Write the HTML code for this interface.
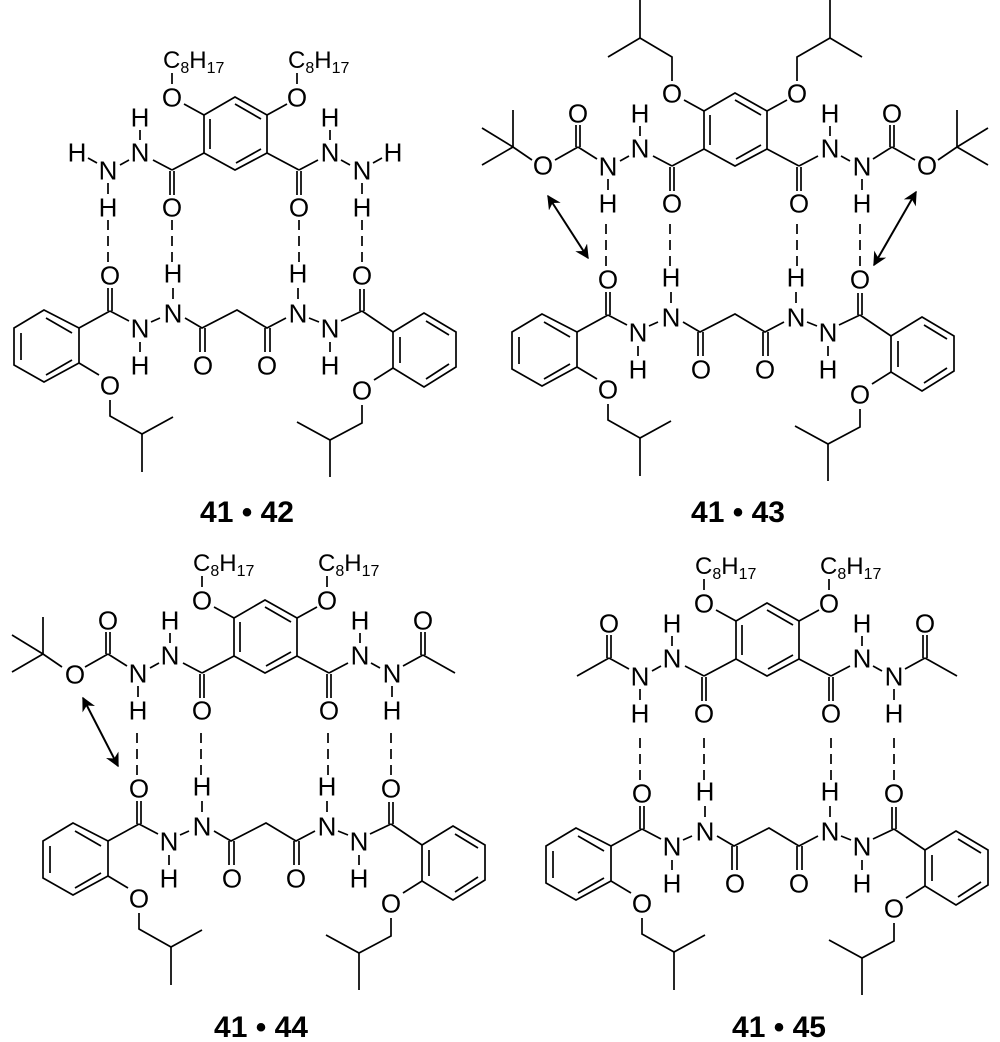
<!DOCTYPE html>
<html><head><meta charset="utf-8"><style>
html,body{margin:0;padding:0;background:#fff}
svg{display:block}
.a{font-family:"Liberation Sans",sans-serif;font-size:26px;text-anchor:middle;fill:#000;transform:translate(0px,2.5px)}
.st{text-anchor:start;font-size:24px;transform:none}
.s{font-size:16px}
.lbl{font-family:"Liberation Sans",sans-serif;font-size:30px;font-weight:bold;text-anchor:middle}
</style></head><body>
<svg width="1000" height="1042" viewBox="0 0 1000 1042" xmlns="http://www.w3.org/2000/svg">
<defs>
<marker id="ah" viewBox="0 0 10 10" refX="9" refY="5" markerWidth="7" markerHeight="7" orient="auto-start-reverse"><path d="M0,0 L10,5 L0,10 L3,5 z" fill="#000"/></marker>
<g id="topL" stroke="#000" stroke-width="1.7" fill="none">
<polygon points="235,97 204,115 204,153 235,170 267,153 267,115"/>
<line x1="235" y1="104" x2="261" y2="119"/><line x1="210" y1="119" x2="210" y2="149"/><line x1="236" y1="163" x2="261" y2="149"/>
<line x1="204" y1="115" x2="184" y2="104"/><line x1="267" y1="115" x2="287" y2="104"/>
<line x1="204" y1="153" x2="172" y2="170"/><line x1="267" y1="153" x2="299" y2="170"/>
<line x1="170" y1="171" x2="170" y2="195"/><line x1="174" y1="171" x2="174" y2="195"/>
<line x1="297" y1="171" x2="297" y2="195"/><line x1="301" y1="171" x2="301" y2="195"/>
<line x1="172" y1="170" x2="153" y2="160"/><line x1="299" y1="170" x2="318" y2="160"/>
<line x1="140" y1="130" x2="140" y2="140"/><line x1="330" y1="130" x2="330" y2="140"/>
<line x1="129" y1="160" x2="120" y2="165"/><line x1="341" y1="160" x2="350" y2="165"/>
<line x1="108" y1="183" x2="108" y2="194"/><line x1="362" y1="183" x2="362" y2="194"/>
</g>
<g id="botL" stroke="#000" stroke-width="1.7" fill="none">
<g stroke-dasharray="10,6"><line x1="108" y1="220" x2="108" y2="262"/><line x1="172" y1="220" x2="172" y2="262"/><line x1="299" y1="220" x2="299" y2="262"/><line x1="362" y1="220" x2="362" y2="262"/></g>
<line x1="108" y1="288" x2="108" y2="311"/><line x1="112" y1="288" x2="112" y2="311"/>
<line x1="110" y1="311" x2="79" y2="328"/><line x1="110" y1="311" x2="129" y2="321"/>
<line x1="140" y1="342" x2="140" y2="352"/><line x1="151" y1="322" x2="160" y2="318"/>
<line x1="173" y1="288" x2="173" y2="299"/>
<polyline points="185,318 202,328 237,310 267,328 286,318"/>
<line x1="200" y1="328" x2="200" y2="352"/><line x1="205" y1="328" x2="205" y2="352"/>
<line x1="265" y1="328" x2="265" y2="352"/><line x1="270" y1="328" x2="270" y2="352"/>
<line x1="298" y1="288" x2="298" y2="299"/><line x1="309" y1="318" x2="319" y2="322"/>
<line x1="330" y1="342" x2="330" y2="352"/><line x1="341" y1="321" x2="362" y2="311"/>
<line x1="360" y1="289" x2="360" y2="311"/><line x1="364" y1="289" x2="364" y2="311"/>
<line x1="362" y1="311" x2="393" y2="332"/>
<polygon points="44,310 79,328 79,363 44,382 14,365 14,328"/>
<line x1="46" y1="318" x2="72" y2="333"/><line x1="21" y1="333" x2="21" y2="360"/><line x1="46" y1="375" x2="72" y2="360"/>
<line x1="79" y1="363" x2="99" y2="375"/>
<polyline points="110,400 110,416 142,434 173,417"/><line x1="142" y1="434" x2="142" y2="472"/>
<polygon points="424,313 456,332 456,367 424,387 393,368 393,332"/>
<line x1="426" y1="321" x2="449" y2="335"/><line x1="400" y1="337" x2="400" y2="363"/><line x1="426" y1="379" x2="449" y2="364"/>
<line x1="393" y1="368" x2="374" y2="380"/>
<polyline points="362,405 362,423 330,440 297,422"/><line x1="330" y1="440" x2="330" y2="477"/>
</g>
<g id="c8" stroke="#000" stroke-width="1.7"><line x1="172" y1="73" x2="172" y2="84"/><line x1="297" y1="73" x2="297" y2="84"/></g>
<g id="bocL" stroke="#000" stroke-width="1.7" fill="none">
<line x1="97" y1="163" x2="78" y2="151"/><line x1="76" y1="151" x2="76" y2="129"/><line x1="80" y1="151" x2="80" y2="129"/>
<line x1="78" y1="151" x2="55" y2="164"/><line x1="32" y1="164" x2="13" y2="151"/>
<line x1="13" y1="151" x2="-18" y2="132"/><line x1="13" y1="151" x2="-18" y2="169"/><line x1="13" y1="151" x2="13" y2="114"/>
</g>
<g id="acL" stroke="#000" stroke-width="1.7" fill="none">
<line x1="97" y1="163" x2="77" y2="152"/><line x1="75" y1="152" x2="75" y2="129"/><line x1="79" y1="152" x2="79" y2="129"/><line x1="77" y1="152" x2="45" y2="170"/>
</g>
</defs>

<!-- Q1 -->
<g>
<use href="#topL"/><use href="#botL"/><use href="#c8"/>
<g stroke="#000" stroke-width="1.7"><line x1="88" y1="158" x2="97" y2="163"/><line x1="373" y1="163" x2="382" y2="158"/></g>
<text class="a st" x="163" y="68">C<tspan class="s" dy="5">8</tspan><tspan dy="-5">H</tspan><tspan class="s" dy="5">17</tspan></text>
<text class="a st" x="288" y="68">C<tspan class="s" dy="5">8</tspan><tspan dy="-5">H</tspan><tspan class="s" dy="5">17</tspan></text>
<text class="a" x="77" y="159">H</text><text class="a" x="393" y="159">H</text>
<text class="a" x="172" y="104">O</text><text class="a" x="297" y="104">O</text><text class="a" x="172" y="214">O</text><text class="a" x="299" y="214">O</text>
<text class="a" x="140" y="159">N</text><text class="a" x="140" y="124">H</text><text class="a" x="108" y="177">N</text><text class="a" x="108" y="214">H</text>
<text class="a" x="330" y="159">N</text><text class="a" x="330" y="124">H</text><text class="a" x="362" y="177">N</text><text class="a" x="362" y="214">H</text>
<text class="a" x="110" y="282">O</text><text class="a" x="140" y="335">N</text><text class="a" x="140" y="372">H</text><text class="a" x="173" y="280">H</text><text class="a" x="173" y="320">N</text>
<text class="a" x="203" y="372">O</text><text class="a" x="267" y="372">O</text><text class="a" x="298" y="280">H</text><text class="a" x="298" y="320">N</text><text class="a" x="330" y="335">N</text><text class="a" x="330" y="372">H</text>
<text class="a" x="362" y="282">O</text><text class="a" x="110" y="392">O</text><text class="a" x="362" y="397">O</text>
<text class="lbl" x="247" y="522">41 • 42</text>
</g>

<!-- Q2 -->
<g transform="translate(500,-4)">
<use href="#topL"/><use href="#bocL"/><use href="#bocL" transform="translate(470,0) scale(-1,1)"/>
<g stroke="#000" stroke-width="1.7" fill="none"><polyline points="172,85 172,61 140,42 108,61"/><line x1="140" y1="42" x2="140" y2="4"/><polyline points="297,85 297,61 330,42 362,61"/><line x1="330" y1="42" x2="330" y2="4"/></g>
<text class="a" x="78" y="124">O</text><text class="a" x="43" y="176">O</text><text class="a" x="392" y="124">O</text><text class="a" x="427" y="176">O</text>
<text class="a" x="172" y="104">O</text><text class="a" x="297" y="104">O</text><text class="a" x="172" y="214">O</text><text class="a" x="299" y="214">O</text>
<text class="a" x="140" y="159">N</text><text class="a" x="140" y="124">H</text><text class="a" x="108" y="177">N</text><text class="a" x="108" y="214">H</text>
<text class="a" x="330" y="159">N</text><text class="a" x="330" y="124">H</text><text class="a" x="362" y="177">N</text><text class="a" x="362" y="214">H</text>
</g>
<g transform="translate(498,4)">
<use href="#botL"/>
<text class="a" x="110" y="282">O</text><text class="a" x="140" y="335">N</text><text class="a" x="140" y="372">H</text><text class="a" x="173" y="280">H</text><text class="a" x="173" y="320">N</text>
<text class="a" x="203" y="372">O</text><text class="a" x="267" y="372">O</text><text class="a" x="298" y="280">H</text><text class="a" x="298" y="320">N</text><text class="a" x="330" y="335">N</text><text class="a" x="330" y="372">H</text>
<text class="a" x="362" y="282">O</text><text class="a" x="110" y="392">O</text><text class="a" x="362" y="397">O</text>
</g>
<text class="lbl" x="738" y="522">41 • 43</text>
<g stroke="#000" stroke-width="2" marker-start="url(#ah)" marker-end="url(#ah)">
<line x1="548" y1="196" x2="588" y2="258"/><line x1="916" y1="192" x2="874" y2="265"/>
</g>

<!-- Q3 -->
<g transform="translate(30,503)">
<use href="#topL"/><use href="#c8"/><use href="#bocL"/><use href="#acL" transform="translate(470,0) scale(-1,1)"/>
<text class="a st" x="163" y="68">C<tspan class="s" dy="5">8</tspan><tspan dy="-5">H</tspan><tspan class="s" dy="5">17</tspan></text>
<text class="a st" x="288" y="68">C<tspan class="s" dy="5">8</tspan><tspan dy="-5">H</tspan><tspan class="s" dy="5">17</tspan></text>
<text class="a" x="78" y="124">O</text><text class="a" x="45" y="178">O</text><text class="a" x="393" y="124">O</text>
<text class="a" x="172" y="104">O</text><text class="a" x="297" y="104">O</text><text class="a" x="172" y="214">O</text><text class="a" x="299" y="214">O</text>
<text class="a" x="140" y="159">N</text><text class="a" x="140" y="124">H</text><text class="a" x="108" y="177">N</text><text class="a" x="108" y="214">H</text>
<text class="a" x="330" y="159">N</text><text class="a" x="330" y="124">H</text><text class="a" x="362" y="177">N</text><text class="a" x="362" y="214">H</text>
</g>
<g transform="translate(29,513)">
<use href="#botL"/>
<text class="a" x="110" y="282">O</text><text class="a" x="140" y="335">N</text><text class="a" x="140" y="372">H</text><text class="a" x="173" y="280">H</text><text class="a" x="173" y="320">N</text>
<text class="a" x="203" y="372">O</text><text class="a" x="267" y="372">O</text><text class="a" x="298" y="280">H</text><text class="a" x="298" y="320">N</text><text class="a" x="330" y="335">N</text><text class="a" x="330" y="372">H</text>
<text class="a" x="362" y="282">O</text><text class="a" x="110" y="392">O</text><text class="a" x="362" y="397">O</text>
</g>
<text class="lbl" x="261" y="1037">41 • 44</text>
<g stroke="#000" stroke-width="2" marker-start="url(#ah)" marker-end="url(#ah)"><line x1="83" y1="698" x2="118" y2="766"/></g>

<!-- Q4 -->
<g transform="translate(532,506)">
<use href="#topL"/><use href="#c8"/><use href="#acL"/><use href="#acL" transform="translate(470,0) scale(-1,1)"/>
<text class="a st" x="163" y="68">C<tspan class="s" dy="5">8</tspan><tspan dy="-5">H</tspan><tspan class="s" dy="5">17</tspan></text>
<text class="a st" x="288" y="68">C<tspan class="s" dy="5">8</tspan><tspan dy="-5">H</tspan><tspan class="s" dy="5">17</tspan></text>
<text class="a" x="77" y="124">O</text><text class="a" x="393" y="124">O</text>
<text class="a" x="172" y="104">O</text><text class="a" x="297" y="104">O</text><text class="a" x="172" y="214">O</text><text class="a" x="299" y="214">O</text>
<text class="a" x="140" y="159">N</text><text class="a" x="140" y="124">H</text><text class="a" x="108" y="177">N</text><text class="a" x="108" y="214">H</text>
<text class="a" x="330" y="159">N</text><text class="a" x="330" y="124">H</text><text class="a" x="362" y="177">N</text><text class="a" x="362" y="214">H</text>
</g>
<g transform="translate(532,518)">
<use href="#botL"/>
<text class="a" x="110" y="282">O</text><text class="a" x="140" y="335">N</text><text class="a" x="140" y="372">H</text><text class="a" x="173" y="280">H</text><text class="a" x="173" y="320">N</text>
<text class="a" x="203" y="372">O</text><text class="a" x="267" y="372">O</text><text class="a" x="298" y="280">H</text><text class="a" x="298" y="320">N</text><text class="a" x="330" y="335">N</text><text class="a" x="330" y="372">H</text>
<text class="a" x="362" y="282">O</text><text class="a" x="110" y="392">O</text><text class="a" x="362" y="397">O</text>
</g>
<text class="lbl" x="779" y="1037">41 • 45</text>
</svg>
</body></html>
